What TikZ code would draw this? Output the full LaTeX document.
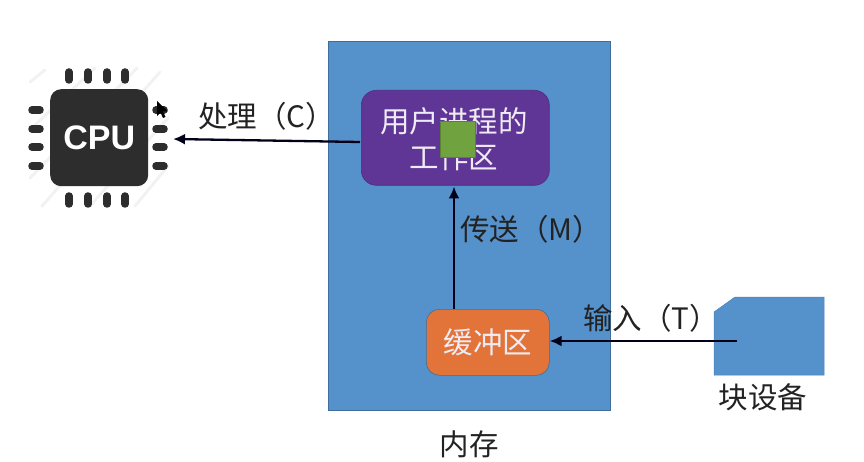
\documentclass[tikz,border=0pt]{standalone}
\usepackage{fontspec}
\setmainfont{Noto Sans CJK SC}
\newfontfamily\latinb{Liberation Sans}
\usetikzlibrary{arrows.meta}
\definecolor{memblue}{HTML}{5591CB}
\definecolor{memedge}{HTML}{3F6E9C}
\definecolor{procpurple}{HTML}{5F3595}
\definecolor{bufferorange}{HTML}{E2743A}
\definecolor{blockgreen}{HTML}{70A23F}
\definecolor{chipdark}{HTML}{2D2D2D}
\definecolor{labelink}{HTML}{222222}
\tikzset{
  box/.style={draw=#1!85!black,line width=0.6pt,fill=#1,inner sep=0pt},
  cjk/.style={font=\fontsize{29.5}{35}\selectfont,text=labelink,inner sep=0pt},
  inbox/.style={font=\fontsize{29.5}{36}\selectfont,text=white!90!procpurple,align=center,inner sep=0pt},
  link/.style={draw=black!90!blue,line width=2.3pt,-{Latex[length=12pt,width=11pt]}},
  pin/.style={draw=chipdark,line width=7.5pt,line cap=round},
  hatch/.style={draw=black!5,line width=3pt,line cap=round}
}
\begin{document}
\begin{tikzpicture}[x=1pt,y=-1pt]
\useasboundingbox (0,0) rectangle (864,462);
% chip hatch
\foreach \a/\b/\c/\d in {30/82/45/70, 30/130/95/68, 30/178/137/68, 42/206/160/72, 90/206/168/118, 135/206/168/166}
  \draw[hatch] (\a,\b) -- (\c,\d);
% memory
\node[box=memblue,draw=memedge,minimum width=282pt,minimum height=369pt,anchor=north west] (memory) at (328,41) {};
% cpu
\node[fill=chipdark,rounded corners=11pt,minimum width=98pt,minimum height=97pt,inner sep=0pt,anchor=north west,text=white,font=\latinb\bfseries\fontsize{34}{34}\selectfont] (cpu) at (50,89) {CPU};
\foreach \x in {69,88,107,125} {
  \draw[pin] (\x,72) -- (\x,80);
  \draw[pin] (\x,196) -- (\x,204);
}
\foreach \y in {110,129,147,166} {
  \draw[pin] (32,\y) -- (40,\y);
  \draw[pin] (156,\y) -- (164,\y);
}
% cursor
\fill[black] (157,101) -- (157,116) -- (160.5,112.5) -- (163,118) -- (165.5,117) -- (163,111.5) -- (168,111.5) -- cycle;
% process area
\node[box=procpurple,rounded corners=15pt,minimum width=188pt,minimum height=95pt,anchor=north west] (proc) at (361,90) {};
\node[inbox] (proctext) at (454,139) {用户进程的\\工作区};
\node[fill=blockgreen,draw=blockgreen!80!black,line width=0.4pt,minimum width=35pt,minimum height=36pt,inner sep=0pt,anchor=north west] (block) at (440,121) {};
% buffer
\node[box=bufferorange,draw=memedge,rounded corners=13pt,minimum width=123pt,minimum height=66pt,anchor=north west,inbox] (buffer) at (426,309) {缓冲区};
% block device
\draw[fill=memblue,draw=memblue!90!black,line width=0.5pt] (714,312) -- (735,297) -- (824,297) -- (824,375) -- (714,375) -- cycle;
\coordinate (devout) at (737,341);
\coordinate (cpuin) at (173,139);
\coordinate (procleft) at (360,142);
\node[cjk] (devlabel) at (763,397) {块设备};
\node[cjk] (memlabel) at (469,444) {内存};
\node[cjk,anchor=west] (clabel) at (198,116) {处理（C）};
\node[cjk,anchor=west] (mlabel) at (460,229) {传送（M）};
\node[cjk,anchor=west] (tlabel) at (583,318) {输入（T）};
% connectors
\draw[link] (procleft) -- (cpuin);
\draw[link] (buffer.north -| 454,309) -- (454,186.5);
\draw[link] (devout) -- (buffer.east |- devout);
\end{tikzpicture}
\end{document}
